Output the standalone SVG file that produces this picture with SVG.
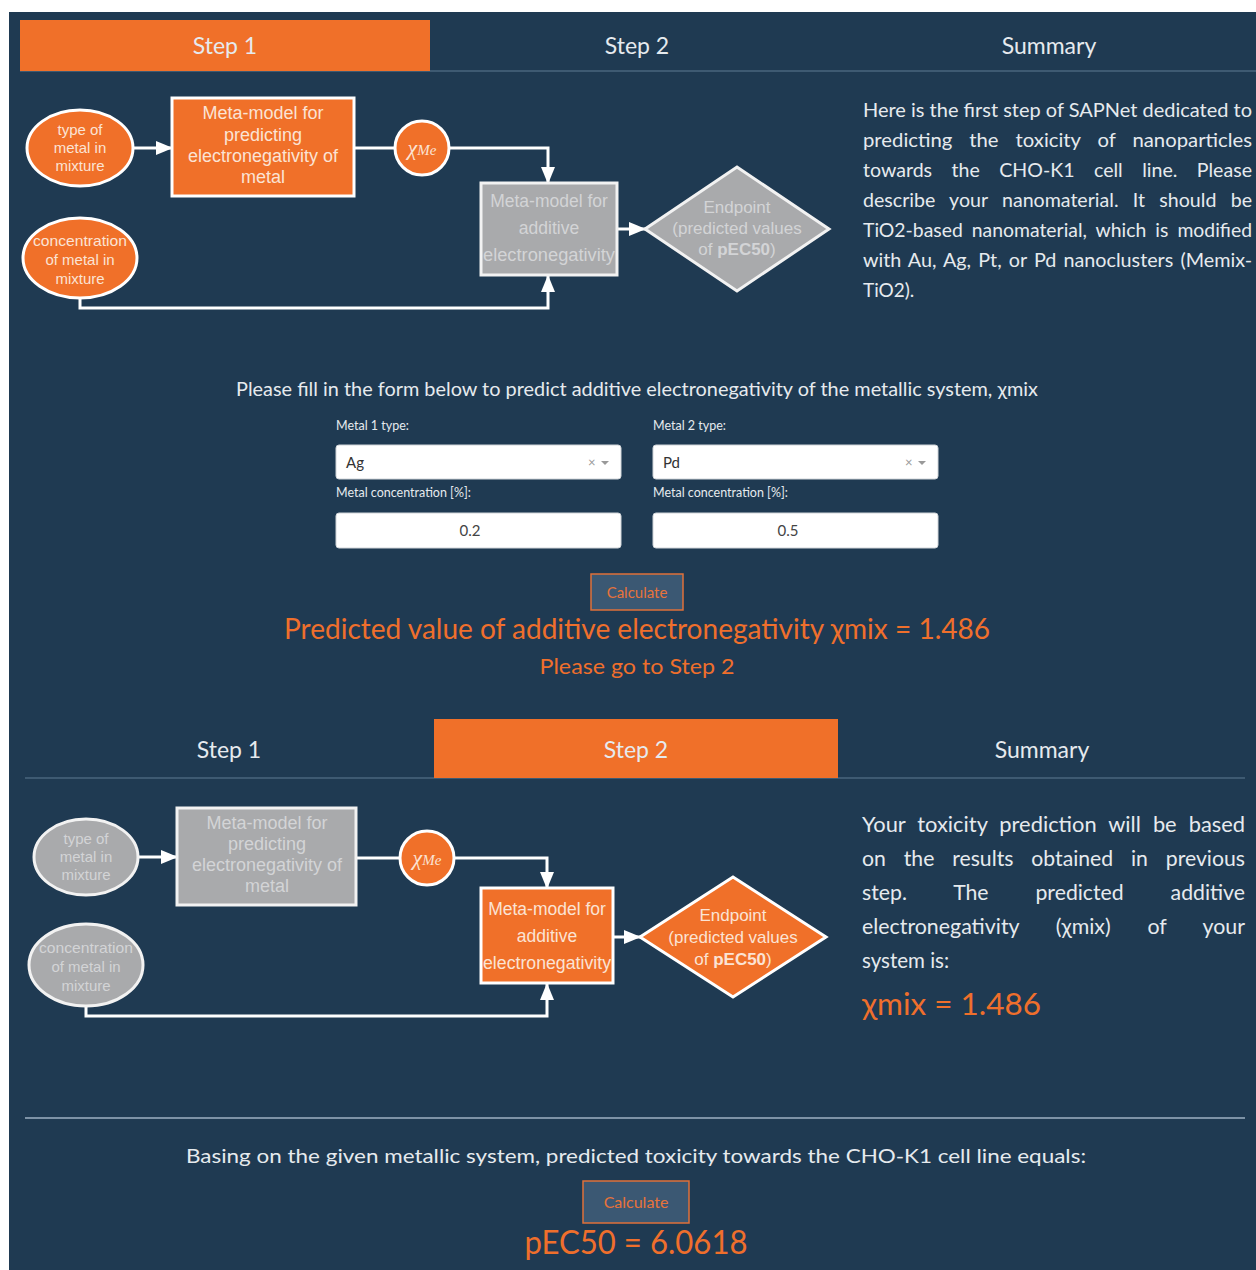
<svg xmlns="http://www.w3.org/2000/svg" width="1256" height="1270" viewBox="0 0 1256 1270">
<style>
.ui{font-family:Lato,"Open Sans","Liberation Sans",sans-serif}
.lt{fill:#e6eaee}
.or{fill:#ef6f2c}
.nd{font-family:"Liberation Sans",Arial,sans-serif;text-anchor:middle}
.ofill{fill:#f07029;stroke:#ffffff;stroke-width:3}
.gfill{fill:#a9aaac;stroke:#f2f2f2;stroke-width:3}
.otxt{fill:#fbe3d4}
.gtxt{fill:#d3d4d6}
.conn{fill:none;stroke:#ffffff;stroke-width:3}
.sep{stroke:#3e5a72;stroke-width:2}
.inp{fill:#ffffff;stroke:#d0d4d8;stroke-width:1}
.btn{fill:#3b5873;stroke:#e0703a;stroke-width:1.5}
.el{font-size:15px}
.bx{font-size:18px}
.ad{font-size:17.5px}
.dm{font-size:17px}
</style>
<defs>
<marker id="ahL" markerWidth="17" markerHeight="16" refX="16" refY="8" orient="auto" markerUnits="userSpaceOnUse" viewBox="0 0 17 16">
<path d="M0,1 L17,8 L0,15 z" fill="#ffffff"/>
</marker>
</defs>
<rect x="0" y="0" width="1256" height="1270" fill="#ffffff"/>
<rect x="9" y="12" width="1247" height="1258" fill="#1f3a52"/>

<!-- Top tabs -->
<g id="tabs1" class="ui">
<line x1="20" y1="71" x2="1256" y2="71" class="sep"/>
<rect x="20" y="20" width="410" height="51" fill="#f07029"/>
<text x="225" y="54" font-size="23" text-anchor="middle" class="lt">Step 1</text>
<text x="637" y="54" font-size="23" text-anchor="middle" class="lt">Step 2</text>
<text x="1049" y="54" font-size="23" text-anchor="middle" class="lt">Summary</text>
</g>

<!-- Top diagram connectors -->
<g id="connectors1">
<line x1="134" y1="148" x2="172" y2="148" class="conn" marker-end="url(#ahL)"/>
<line x1="354" y1="148" x2="395" y2="148" class="conn"/>
<polyline points="449,148 548,148 548,183" class="conn" marker-end="url(#ahL)"/>
<polyline points="80,298 80,308 548,308 548,276" class="conn" marker-end="url(#ahL)"/>
<line x1="617" y1="229" x2="645" y2="229" class="conn" marker-end="url(#ahL)"/>
</g>

<g id="n1-type" class="nd el">
<ellipse cx="80" cy="148" rx="53" ry="38" class="ofill"/>
<text x="80" y="135" class="otxt">type of</text>
<text x="80" y="153" class="otxt">metal in</text>
<text x="80" y="171" class="otxt">mixture</text>
</g>
<g id="n1-conc" class="nd el">
<ellipse cx="80" cy="258" rx="57" ry="40" class="ofill"/>
<text x="80" y="246" class="otxt" textLength="94" lengthAdjust="spacingAndGlyphs">concentration</text>
<text x="80" y="265" class="otxt">of metal in</text>
<text x="80" y="284" class="otxt">mixture</text>
</g>
<g id="n1-meta" class="nd bx">
<rect x="172" y="98" width="182" height="98" class="ofill"/>
<text x="263" y="119" class="otxt">Meta-model for</text>
<text x="263" y="141" class="otxt">predicting</text>
<text x="263" y="162" class="otxt">electronegativity of</text>
<text x="263" y="183" class="otxt">metal</text>
</g>
<g id="n1-chi" class="nd">
<circle cx="422" cy="148" r="27" class="ofill"/>
<text x="422" y="155" font-size="22" font-family="'Liberation Serif',serif" font-style="italic" class="otxt">χ<tspan font-size="15">Me</tspan></text>
</g>
<g id="n1-add" class="nd ad">
<rect x="481" y="183" width="136" height="92" class="gfill"/>
<text x="549" y="207" class="gtxt">Meta-model for</text>
<text x="549" y="234" class="gtxt">additive</text>
<text x="549" y="261" class="gtxt" textLength="132" lengthAdjust="spacingAndGlyphs">electronegativity</text>
</g>
<g id="n1-end" class="nd dm">
<polygon points="645,229 737,167 829,229 737,291" class="gfill"/>
<text x="737" y="213" class="gtxt">Endpoint</text>
<text x="737" y="234" class="gtxt">(predicted values</text>
<text x="737" y="255" class="gtxt">of <tspan font-weight="bold">pEC50</tspan>)</text>
</g>

<!-- Top right description -->
<g id="desc1" class="ui lt" font-size="19">
<text x="863" y="117" textLength="389" lengthAdjust="spacingAndGlyphs">Here is the first step of SAPNet dedicated to</text>
<text x="863" y="147" textLength="389" lengthAdjust="spacingAndGlyphs" word-spacing="11">predicting the toxicity of nanoparticles</text>
<text x="863" y="177" textLength="389" lengthAdjust="spacingAndGlyphs" word-spacing="14">towards the CHO-K1 cell line. Please</text>
<text x="863" y="207" textLength="389" lengthAdjust="spacingAndGlyphs" word-spacing="9">describe your nanomaterial. It should be</text>
<text x="863" y="237" textLength="389" lengthAdjust="spacingAndGlyphs" word-spacing="4">TiO2-based nanomaterial, which is modified</text>
<text x="863" y="267" textLength="389" lengthAdjust="spacingAndGlyphs" word-spacing="2">with Au, Ag, Pt, or Pd nanoclusters (Memix-</text>
<text x="863" y="297">TiO2).</text>
</g>

<!-- Form -->
<g id="form1" class="ui">
<text x="637" y="396" font-size="18.5" text-anchor="middle" class="lt" textLength="802" lengthAdjust="spacingAndGlyphs">Please fill in the form below to predict additive electronegativity of the metallic system, χmix</text>
<text x="336" y="430" font-size="12.5" class="lt">Metal 1 type:</text>
<text x="653" y="430" font-size="12.5" class="lt">Metal 2 type:</text>
<rect x="336" y="445" width="285" height="34" rx="3" class="inp"/>
<rect x="653" y="445" width="285" height="34" rx="3" class="inp"/>
<text x="346" y="468" font-size="15" fill="#333333">Ag</text>
<text x="663" y="468" font-size="15" fill="#333333">Pd</text>
<text x="588" y="467" font-size="13" fill="#999999">×</text>
<path d="M601,461 L609,461 L605,465 z" fill="#999999"/>
<text x="905" y="467" font-size="13" fill="#999999">×</text>
<path d="M918,461 L926,461 L922,465 z" fill="#999999"/>
<text x="336" y="497" font-size="12.5" class="lt">Metal concentration [%]:</text>
<text x="653" y="497" font-size="12.5" class="lt">Metal concentration [%]:</text>
<rect x="336" y="513" width="285" height="35" rx="3" class="inp"/>
<rect x="653" y="513" width="285" height="35" rx="3" class="inp"/>
<text x="470" y="536" font-size="15" text-anchor="middle" fill="#444444">0.2</text>
<text x="788" y="536" font-size="15" text-anchor="middle" fill="#444444">0.5</text>
<rect x="591" y="574" width="92" height="36" class="btn"/>
<text x="637" y="598" font-size="15" text-anchor="middle" fill="#e8733a">Calculate</text>
<text x="637" y="639" font-size="28" text-anchor="middle" class="or" textLength="706" lengthAdjust="spacingAndGlyphs">Predicted value of additive electronegativity χmix = 1.486</text>
<text x="637" y="674" font-size="22" text-anchor="middle" class="or" textLength="195" lengthAdjust="spacingAndGlyphs">Please go to Step 2</text>
</g>

<!-- Second tabs -->
<g id="tabs2" class="ui">
<line x1="25" y1="778" x2="1245" y2="778" class="sep"/>
<rect x="434" y="719" width="404" height="59" fill="#f07029"/>
<text x="229" y="758" font-size="23" text-anchor="middle" class="lt">Step 1</text>
<text x="636" y="758" font-size="23" text-anchor="middle" class="lt">Step 2</text>
<text x="1042" y="758" font-size="23" text-anchor="middle" class="lt">Summary</text>
</g>

<!-- Bottom diagram connectors -->
<g id="connectors2">
<line x1="138" y1="857" x2="177" y2="857" class="conn" marker-end="url(#ahL)"/>
<line x1="356" y1="858" x2="400" y2="858" class="conn"/>
<polyline points="454,858 547,858 547,888" class="conn" marker-end="url(#ahL)"/>
<polyline points="86,1006 86,1016 547,1016 547,984" class="conn" marker-end="url(#ahL)"/>
<line x1="613" y1="937" x2="640" y2="937" class="conn" marker-end="url(#ahL)"/>
</g>

<g id="n2-type" class="nd el">
<ellipse cx="86" cy="857" rx="52" ry="38" class="gfill"/>
<text x="86" y="844" class="gtxt">type of</text>
<text x="86" y="862" class="gtxt">metal in</text>
<text x="86" y="880" class="gtxt">mixture</text>
</g>
<g id="n2-conc" class="nd el">
<ellipse cx="86" cy="965" rx="57" ry="41" class="gfill"/>
<text x="86" y="953" class="gtxt" textLength="94" lengthAdjust="spacingAndGlyphs">concentration</text>
<text x="86" y="972" class="gtxt">of metal in</text>
<text x="86" y="991" class="gtxt">mixture</text>
</g>
<g id="n2-meta" class="nd bx">
<rect x="177" y="808" width="179" height="97" class="gfill"/>
<text x="267" y="829" class="gtxt">Meta-model for</text>
<text x="267" y="850" class="gtxt">predicting</text>
<text x="267" y="871" class="gtxt">electronegativity of</text>
<text x="267" y="892" class="gtxt">metal</text>
</g>
<g id="n2-chi" class="nd">
<circle cx="427" cy="858" r="27" class="ofill"/>
<text x="427" y="865" font-size="22" font-family="'Liberation Serif',serif" font-style="italic" class="otxt">χ<tspan font-size="15">Me</tspan></text>
</g>
<g id="n2-add" class="nd ad">
<rect x="481" y="888" width="132" height="95" class="ofill"/>
<text x="547" y="915" class="otxt">Meta-model for</text>
<text x="547" y="942" class="otxt">additive</text>
<text x="547" y="969" class="otxt" textLength="128" lengthAdjust="spacingAndGlyphs">electronegativity</text>
</g>
<g id="n2-end" class="nd dm">
<polygon points="640,937 733,877 826,937 733,997" class="ofill"/>
<text x="733" y="921" class="otxt">Endpoint</text>
<text x="733" y="943" class="otxt">(predicted values</text>
<text x="733" y="965" class="otxt">of <tspan font-weight="bold">pEC50</tspan>)</text>
</g>

<!-- Bottom right description -->
<g id="desc2" class="ui lt" font-size="20.5">
<text x="862" y="832" textLength="383" lengthAdjust="spacingAndGlyphs" word-spacing="6">Your toxicity prediction will be based</text>
<text x="862" y="866" textLength="383" lengthAdjust="spacingAndGlyphs" word-spacing="12">on the results obtained in previous</text>
<text x="862" y="900" textLength="383" lengthAdjust="spacingAndGlyphs" word-spacing="40">step. The predicted additive</text>
<text x="862" y="934" textLength="383" lengthAdjust="spacingAndGlyphs" word-spacing="30">electronegativity (χmix) of your</text>
<text x="862" y="968">system is:</text>
<text x="862" y="1015" font-size="30" class="or" textLength="179" lengthAdjust="spacingAndGlyphs">χmix = 1.486</text>
</g>

<!-- Bottom result -->
<g id="result2" class="ui">
<line x1="25" y1="1118" x2="1245" y2="1118" stroke="#7d92a6" stroke-width="2"/>
<text x="636" y="1163" font-size="20" text-anchor="middle" class="lt" textLength="900" lengthAdjust="spacingAndGlyphs">Basing on the given metallic system, predicted toxicity towards the CHO-K1 cell line equals:</text>
<rect x="583" y="1181" width="106" height="42" class="btn"/>
<text x="636" y="1208" font-size="16" text-anchor="middle" fill="#e8733a">Calculate</text>
<text x="636" y="1254" font-size="32" text-anchor="middle" class="or" textLength="223" lengthAdjust="spacingAndGlyphs">pEC50 = 6.0618</text>
</g>
</svg>
